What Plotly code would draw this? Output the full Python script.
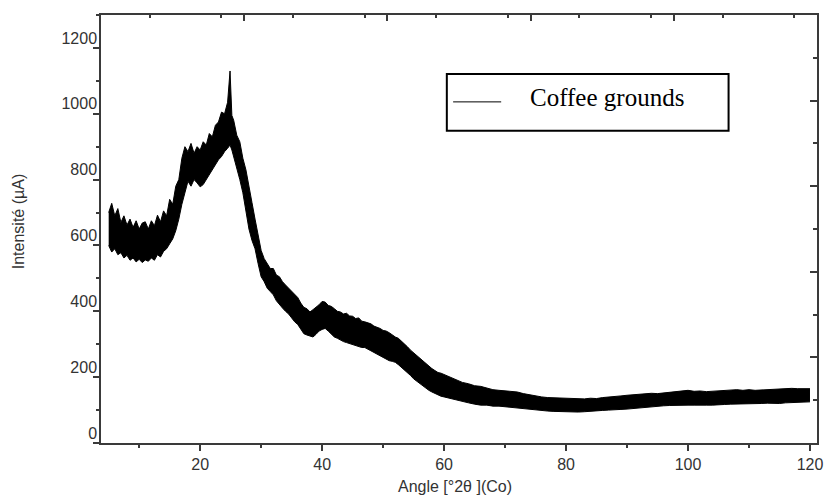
import plotly.graph_objects as go

# Angle (°2θ, Co) sampling positions
angle = [5.0, 5.5, 6.0, 6.5, 7.0, 7.5, 8.0, 8.5, 9.0, 9.5,
         10.0, 10.5, 11.0, 11.5, 12.0, 12.5, 13.0, 13.5, 14.0, 14.5,
         15.0, 15.5, 16.0, 16.5, 17.0, 17.5, 18.0, 18.5, 19.0, 19.5,
         20.0, 20.5, 21.0, 21.5, 22.0, 22.5, 23.0, 23.5, 24.0, 24.5,
         24.9, 25.2,
         25.5, 26.0, 26.5, 27.0, 27.5, 28.0, 28.5, 29.0, 29.5,
         30.0, 30.5, 31.0, 31.5, 32.0, 32.5, 33.0, 33.5, 34.0, 34.5,
         35.0, 35.5, 36.0, 36.5, 37.0, 37.5, 38.0, 38.5, 39.0, 39.5,
         40.0, 40.5, 41.0, 41.5, 42.0, 42.5, 43.0, 43.5, 44.0, 44.5,
         45.0, 45.5, 46.0, 46.5, 47.0, 47.5, 48.0, 48.5, 49.0, 49.5,
         50.0, 50.5, 51.0, 51.5, 52.0, 52.5, 53.0, 53.5, 54.0, 54.5,
         55.0, 55.5, 56.0, 56.5, 57.0, 57.5, 58.0, 58.5, 59.0, 59.5, 60.0,
         61, 62, 63, 64, 65, 66, 67, 68, 69, 70,
         71, 72, 73, 74, 75, 76, 77, 78, 79, 80,
         81, 82, 83, 84, 85, 86, 87, 88, 89, 90,
         91, 92, 93, 94, 95, 96, 97, 98, 99, 100,
         101, 102, 103, 104, 105, 106, 107, 108, 109, 110,
         111, 112, 113, 114, 115, 116, 117, 118, 119, 120]

# Upper edge of the noisy trace (µA)
upper = [700, 728, 690, 712, 670, 690, 662, 680, 655, 675,
         650, 668, 672, 650, 675, 660, 692, 672, 705, 690,
         740, 725, 780, 800, 865, 900, 885, 910, 880, 900,
         890, 915, 905, 940, 930, 965, 975, 1005, 1000, 1035,
         1130, 995,
         980, 935, 915, 865, 830, 775, 730, 680, 630,
         585, 560, 545, 530, 530, 510, 505, 490, 480, 470,
         462, 450, 442, 425, 412, 408, 398, 405, 412, 420,
         430, 428, 418, 415, 408, 400, 398, 392, 394, 386,
         385, 378, 380, 370, 368, 365, 362, 355, 352, 348,
         342, 340, 335, 328, 322, 318, 310, 300, 292, 282,
         274, 265, 256, 248, 240, 232, 226, 220, 214, 212, 208,
         200, 192, 184, 180, 174, 172, 166, 162, 160, 158,
         156, 155, 150, 146, 142, 140, 138, 137, 136, 135,
         136, 135, 134, 136, 135, 138, 139, 140, 143, 145,
         147, 148, 150, 151, 150, 152, 155, 157, 158, 160,
         157, 158, 156, 157, 158, 159, 160, 162, 160, 162,
         160, 161, 163, 162, 165, 164, 166, 165, 166, 165]

# Lower edge of the noisy trace (µA)
lower = [600, 580, 590, 572, 578, 562, 570, 555, 562, 550,
         558, 548, 556, 552, 562, 555, 572, 565, 582, 590,
         605, 620, 645, 680, 725, 760, 795, 780, 800, 790,
         778, 785, 800, 815, 830, 845, 860, 870, 885, 895,
         905, 890,
         870, 830, 800, 760, 705, 650, 615, 590, 545,
         505, 490, 470, 460, 450, 432, 420, 410, 400, 392,
         380, 368, 360, 345, 332, 328, 325, 322, 330, 340,
         345, 348, 340, 330, 322, 318, 312, 308, 305, 302,
         300, 296, 295, 290, 290, 284, 280, 275, 270, 265,
         260, 255, 250, 248, 245, 238, 230, 222, 215, 205,
         195, 188, 180, 172, 165, 160, 155, 150, 145, 142, 140,
         135, 130, 125, 122, 118, 115, 115, 112, 112, 110,
         108, 105, 104, 102, 100, 99, 97, 96, 95, 95,
         94, 94, 95, 97, 98, 99, 100, 100, 102, 103,
         105, 106, 108, 110, 111, 113, 114, 115, 115, 115,
         115, 116, 115, 115, 115, 117, 118, 118, 119, 120,
         120, 120, 121, 120, 120, 122, 123, 124, 125, 125]

series_name = "Coffee grounds"
x_title = "Angle [°2θ ](Co)"
y_title = "Intensité (µA)"

AX = "#3a3a3a"
SANS = "Liberation Sans, Arial, sans-serif"
TICKFONT = dict(family=SANS, size=16, color="#333333")

fig = go.Figure()
fig.add_trace(go.Scatter(x=angle, y=lower, mode="lines",
                         line=dict(color="black", width=1), showlegend=False,
                         hoverinfo="skip"))
fig.add_trace(go.Scatter(x=angle, y=upper, mode="lines", fill="tonexty",
                         fillcolor="black", line=dict(color="black", width=1),
                         name=series_name, showlegend=False))
# helper trace so the mirrored (top / right) axes are drawn
fig.add_trace(go.Scatter(x=[None], y=[None], xaxis="x2", yaxis="y2",
                         showlegend=False, hoverinfo="skip"))

xr = [3.74, 121.15]
yr = [0, 1300]

fig.update_layout(
    width=825, height=496,
    margin=dict(l=101, r=8, t=15, b=53, autoexpand=False),
    paper_bgcolor="white", plot_bgcolor="white",
    showlegend=False,
    xaxis=dict(range=xr, tick0=0, dtick=20, ticks="outside", ticklen=6,
               tickwidth=1.5, tickcolor=AX, showline=True, linecolor=AX,
               linewidth=1.5, showgrid=False, zeroline=False, automargin=False,
               tickfont=TICKFONT, ticklabelstandoff=0, ticklabeloverflow="allow",
               minor=dict(dtick=10, ticks="outside", ticklen=3, tickwidth=1.5,
                          tickcolor=AX, showgrid=False)),
    yaxis=dict(range=yr, tick0=0, dtick=200, ticks="outside", ticklen=6,
               tickwidth=1.5, tickcolor=AX, showline=True, linecolor=AX,
               linewidth=1.5, showgrid=False, zeroline=False, automargin=False,
               tickfont=TICKFONT, ticklabelshift=-10, ticklabelstandoff=-7,
               minor=dict(dtick=100, ticks="outside", ticklen=3, tickwidth=1.5,
                          tickcolor=AX, showgrid=False)),
    xaxis2=dict(range=xr, overlaying="x", side="top", anchor="y",
                tick0=xr[0], dtick=(xr[1] - xr[0]) / 5, ticks="inside", ticklen=6,
                tickwidth=1.5, tickcolor=AX, showline=True, linecolor=AX,
                linewidth=1.5, showgrid=False, zeroline=False, automargin=False,
                showticklabels=False,
                minor=dict(dtick=(xr[1] - xr[0]) / 10, ticks="inside", ticklen=3,
                           tickwidth=1.5, tickcolor=AX, showgrid=False)),
    yaxis2=dict(range=yr, overlaying="y", side="right", anchor="x",
                tick0=0, dtick=260, ticks="inside", ticklen=7,
                tickwidth=1.5, tickcolor=AX, showline=True, linecolor=AX,
                linewidth=1.5, showgrid=False, zeroline=False, automargin=False,
                showticklabels=False,
                minor=dict(dtick=130, ticks="inside", ticklen=4, tickwidth=1.5,
                           tickcolor=AX, showgrid=False)),
)

# axis titles
fig.add_annotation(text=x_title, xref="paper", yref="paper", x=0.4946, y=-0.1012,
                   xanchor="center", yanchor="middle", showarrow=False,
                   font=dict(family=SANS, size=16, color="#333333"))
fig.add_annotation(text=y_title, xref="paper", yref="paper", x=-0.116, y=0.518,
                   xanchor="center", yanchor="middle", showarrow=False, textangle=-90,
                   font=dict(family=SANS, size=16, color="#333333"))

# legend box drawn like the original
fig.add_shape(type="rect", xref="paper", yref="paper", x0=0.483, x1=0.8765,
              y0=0.7295, y1=0.862, line=dict(color="black", width=2),
              fillcolor="white")
fig.add_shape(type="line", xref="paper", yref="paper", x0=0.4918, x1=0.5589,
              y0=0.797, y1=0.797, line=dict(color="black", width=1))
fig.add_annotation(text=series_name, xref="paper", yref="paper", x=0.5966, y=0.8076,
                   xanchor="left", yanchor="middle", showarrow=False,
                   font=dict(family="Liberation Serif, Times New Roman, serif", size=25,
                             color="black"))

fig.write_html("out.html",
               config={"displayModeBar": False},
               post_script="document.body.style.margin='0';"
                           "document.body.style.overflow='hidden';")
